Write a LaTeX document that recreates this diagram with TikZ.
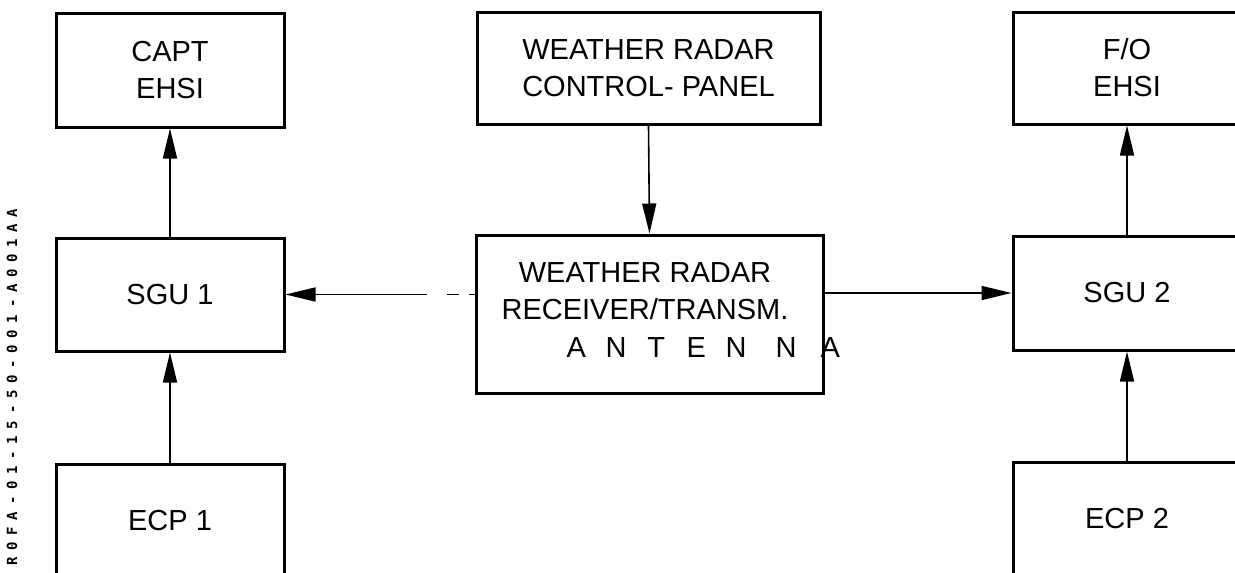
\documentclass[tikz,border=0pt]{standalone}
\usepackage{fontspec}
\setmainfont{Liberation Sans}
\newfontfamily\codefont[LetterSpace=48]{DejaVu Sans Mono}
\usetikzlibrary{arrows.meta}
\tikzset{
  box/.style={draw, line width=3pt, rectangle, align=center, inner sep=0pt,
    font=\fontsize{29}{37}\selectfont},
  lbl/.style={inner sep=0pt, align=center, font=\fontsize{29}{37}\selectfont},
  conn/.style={line width=1.6pt, -{Triangle[length=30pt,width=14pt]}},
}
\begin{document}
\begin{tikzpicture}[x=1pt,y=-1pt]
\useasboundingbox (0,0) rectangle (1235,573);
\clip (0,0) rectangle (1235,573);
% left column
\node[box, minimum width=228pt, minimum height=114pt] (capt) at (170,70) {CAPT\\EHSI};
\node[box, minimum width=228pt, minimum height=113pt] (sgu1) at (170,294.5) {SGU 1};
\node[box, minimum width=228pt, minimum height=114pt] (ecp1) at (170,521) {ECP 1};
% centre
\node[box, minimum width=343pt, minimum height=112pt] (wrcp) at (648.5,68) {WEATHER RADAR\\CONTROL- PANEL};
\node[box, minimum width=347pt, minimum height=158pt] (rec) at (649.5,314) {};
\node[lbl] (rectxt) at (645,291.5) {WEATHER RADAR\\RECEIVER/TRANSM.};
\node[lbl, anchor=base west] (ant) at (556,357) {\makebox[40pt]{A}\makebox[40pt]{N}\makebox[40pt]{T}\makebox[40pt]{E}\makebox[40pt]{N}\hspace{10pt}\makebox[40pt]{N}\hspace{4pt}\makebox[40pt]{A}};
% right column
\node[box, minimum width=228pt, minimum height=112pt] (fo) at (1127,68) {F/O\\EHSI};
\node[box, minimum width=228pt, minimum height=114pt] (sgu2) at (1127,293) {SGU 2};
\node[box, minimum width=228pt, minimum height=114pt] (ecp2) at (1127,519) {ECP 2};
% figure code
\node[rotate=90, inner sep=0pt, font=\codefont\bfseries\fontsize{14}{16}\selectfont] (code) at (12,387) {R0FA-01-15-50-001-A001AA};
% connectors
\draw[conn] (sgu1.north) -- (capt.south);
\draw[conn] (ecp1.north) -- (sgu1.south);
\draw[conn] (sgu2.north) -- (fo.south);
\draw[conn] (ecp2.north) -- (sgu2.south);
\draw[conn] (wrcp.south) -- (rec.north);
\draw[conn] (rec.east |- sgu2.west) -- (sgu2.west);
\draw[conn, dash pattern=on 6pt off 10pt on 12pt off 20pt on 400pt off 0pt] (rec.west |- sgu1.east) -- (sgu1.east);
\end{tikzpicture}
\end{document}
